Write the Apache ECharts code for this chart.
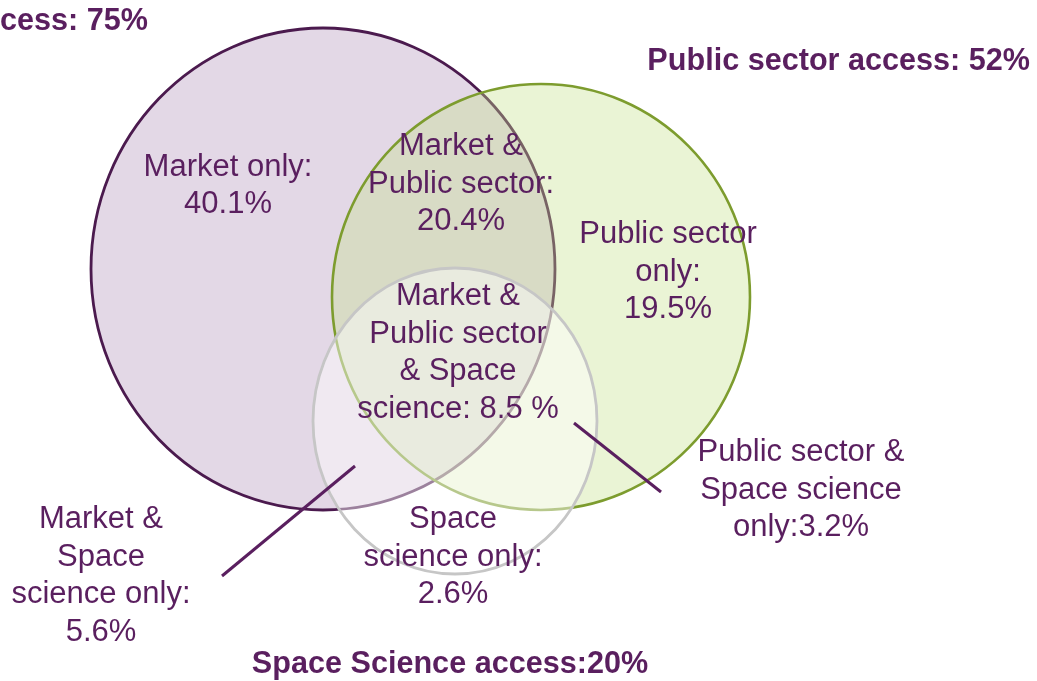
<!DOCTYPE html>
<html>
<head>
<meta charset="utf-8">
<script src="https://cdn.jsdelivr.net/npm/echarts@6/dist/echarts.min.js"></script>
<style>
html,body{margin:0;padding:0;background:#fff;}
#main{width:1037px;height:681px;}
</style>
</head>
<body>
<div id="main"></div>
<script>
// ---- data ----
const setNames = ['Market', 'Public sector', 'Space Science'];
const setAccess = [75, 52, 20];
const regionNames = [
  'Market only:',
  'Market &\nPublic sector:',
  'Public sector\nonly:',
  'Market &\nPublic sector\n& Space\nscience:',
  'Public sector &\nSpace science\nonly:',
  'Space\nscience only:',
  'Market &\nSpace\nscience only:'
];
const regionValues = [40.1, 20.4, 19.5, 8.5, 3.2, 2.6, 5.6];

// ---- layout (pixel-like units, y downward) ----
const circleLayout = [ // cx, cy, rx, ry
  [323, 269, 232, 241],
  [541, 297, 209, 213],
  [455, 421, 142, 153]
];
const circleStyles = [
  {fill: '#e3d8e6', stroke: '#4b1a4e', width: 2.8},
  {fill: 'rgba(198,224,140,0.37)', stroke: '#7d9c2e', width: 2.6},
  {fill: 'rgba(255,255,255,0.45)', stroke: '#c6c6c6', width: 2.8}
];
const regionPos = [[228,186],[461,184],[668,272],[458,353],[801,490],[453,557],[101,576]];
const regionSep = ['\n', '\n', '\n', ' ', '', '\n', '\n'];
const regionUnit = ['%', '%', '%', ' %', '%', '%', '%'];
const titlePos = [[148, 22, 'right'], [1030, 62, 'right'], [450, 665, 'center']];
const titleSep = [' access: ', ' access: ', ' access:'];
const leaderLines = [[[222,576],[355,466]], [[574,423],[661,492]]];

const TEXT = '#5a1f5f';
const FONT = "'Liberation Sans', Arial, sans-serif";

const circleData = circleLayout.map((c, i) => ({value: c, idx: i}));
const regionData = regionPos.map((p, i) => ({value: [p[0], p[1]], label: regionNames[i] + regionSep[i] + regionValues[i].toFixed(1) + regionUnit[i]}));
const titleData = titlePos.map((p, i) => ({value: [p[0], p[1]], label: setNames[i] + titleSep[i] + setAccess[i] + '%', align: p[2]}));
const lineData = leaderLines.map(l => ({value: [l[0][0], l[0][1], l[1][0], l[1][1]]}));

const chart = echarts.init(document.getElementById('main'), null, {renderer: 'canvas'});
chart.setOption({
  animation: false,
  grid: {left: 0, right: 0, top: 0, bottom: 0},
  xAxis: {type: 'value', min: 0, max: 1037, show: false},
  yAxis: {type: 'value', min: 0, max: 681, inverse: true, show: false},
  series: [
    {
      type: 'custom',
      data: circleData,
      renderItem: function (params, api) {
        const c = api.coord([api.value(0), api.value(1)]);
        const s = api.size([api.value(2), api.value(3)]);
        const st = circleStyles[params.dataIndex];
        return {
          type: 'ellipse',
          shape: {cx: c[0], cy: c[1], rx: s[0], ry: s[1]},
          style: {fill: st.fill, stroke: st.stroke, lineWidth: st.width}
        };
      }
    },
    {
      type: 'custom',
      data: lineData,
      renderItem: function (params, api) {
        const a = api.coord([api.value(0), api.value(1)]);
        const b = api.coord([api.value(2), api.value(3)]);
        return {
          type: 'line',
          shape: {x1: a[0], y1: a[1], x2: b[0], y2: b[1]},
          style: {stroke: '#5a1f5f', lineWidth: 3}
        };
      }
    },
    {
      type: 'custom',
      data: regionData,
      renderItem: function (params, api) {
        const c = api.coord([api.value(0), api.value(1)]);
        return {
          type: 'text',
          style: {
            text: regionData[params.dataIndex].label,
            x: c[0], y: c[1],
            align: 'center', verticalAlign: 'middle',
            fill: TEXT, fontSize: 31, fontFamily: FONT, lineHeight: 37.5
          }
        };
      }
    },
    {
      type: 'custom',
      data: titleData,
      renderItem: function (params, api) {
        const c = api.coord([api.value(0), api.value(1)]);
        const d = titleData[params.dataIndex];
        return {
          type: 'text',
          style: {
            text: d.label,
            x: c[0], y: c[1],
            align: d.align, verticalAlign: 'middle',
            fill: TEXT, fontSize: 30.6, fontWeight: 'bold', fontFamily: FONT
          }
        };
      }
    }
  ]
});
</script>
</body>
</html>
